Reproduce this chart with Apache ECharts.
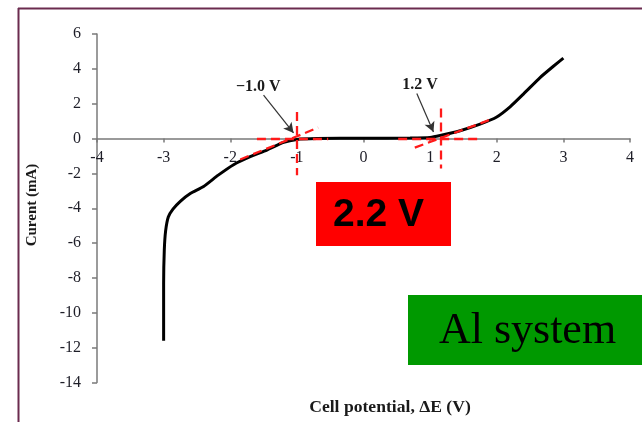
<!DOCTYPE html>
<html>
<head>
<meta charset="utf-8">
<script src="https://cdn.jsdelivr.net/npm/echarts@6/dist/echarts.min.js"></script>
<style>
  html, body { margin: 0; padding: 0; background: #fff; }
  #chart { width: 642px; height: 422px; }
</style>
</head>
<body>
<div id="chart"></div>
<script>
// Polarisation curve of the Al cell: cell potential (V) vs current (mA)
const potential = [-3.00, -3.00, -2.99, -2.97, -2.93, -2.86, -2.75, -2.60, -2.40, -2.18, -1.95, -1.70, -1.45, -1.20, -1.00, -0.70, 0.00, 0.70, 1.00, 1.15, 1.45, 1.75, 2.00, 2.20, 2.40, 2.65, 2.85, 3.00];
const current   = [-11.6, -8.3, -6.4, -5.3, -4.5, -4.05, -3.6, -3.15, -2.75, -2.1, -1.5, -1.04, -0.66, -0.22, -0.05, 0.00, 0.02, 0.03, 0.06, 0.17, 0.45, 0.83, 1.24, 1.82, 2.55, 3.50, 4.15, 4.62];

const xTicks = [-4, -3, -2, -1, 0, 1, 2, 3, 4];
const yTicks = [-14, -12, -10, -8, -6, -4, -2, 0, 2, 4, 6];

// Onset construction lines (dashed red): [x1, y1, x2, y2]
const onsetLines = [
  [-1.00, 1.53, -1.00, -2.10],
  [-1.60, 0.00, -0.53, 0.00],
  [-1.85, -1.20, -0.68, 0.63],
  [1.16, 1.73, 1.16, -1.72],
  [0.52, 0.00, 1.77, 0.00],
  [0.77, -0.52, 1.95, 1.15]
];

// Callout arrows: [x1, y1, x2, y2]
const arrows = [
  [-1.50, 2.49, -1.05, 0.32],
  [0.80, 2.59, 1.05, 0.38]
];
const calloutText = ['\u22121.0 V', '1.2 V'];
const calloutPos = [[-1.58, 2.97], [0.85, 3.06]];

const chart = echarts.init(document.getElementById('chart'), null, { renderer: 'canvas' });

const serif = '"Liberation Serif", "Times New Roman", serif';
const gridTop = 34, gridBottom = 39.5, chartH = 422;
const yMin = yTicks[0], yMax = yTicks[yTicks.length - 1];
// place the x axis (line, ticks and labels) on the zero current line
const plotH = chartH - gridTop - gridBottom;
const zeroFromBottom = plotH * (0 - yMin) / (yMax - yMin);

chart.setOption({
  animation: false,
  backgroundColor: '#ffffff',
  grid: { left: 97, right: 12, top: gridTop, bottom: gridBottom, containLabel: false },
  xAxis: {
    type: 'value', min: xTicks[0], max: xTicks[xTicks.length - 1], interval: 1,
    position: 'bottom',
    offset: -zeroFromBottom,
    axisLine: { onZero: false, lineStyle: { color: '#7a7a7a', width: 1.5 } },
    axisTick: { show: true, inside: false, length: 4, lineStyle: { color: '#7a7a7a', width: 1.5 } },
    axisLabel: { fontFamily: serif, fontSize: 16, color: '#1e1e28', margin: 11 },
    splitLine: { show: false }
  },
  yAxis: {
    type: 'value', min: yMin, max: yMax, interval: 2,
    axisLine: { show: true, onZero: false, lineStyle: { color: '#7a7a7a', width: 1.5 } },
    axisTick: { show: true, inside: false, length: 5, lineStyle: { color: '#7a7a7a', width: 1.5 } },
    axisLabel: { fontFamily: serif, fontSize: 16, color: '#1e1e28', margin: 16 },
    splitLine: { show: false }
  },
  series: [
    {
      name: 'I-V',
      type: 'line',
      data: potential.map((v, i) => [v, current[i]]),
      showSymbol: false,
      smooth: 0.2,
      lineStyle: { color: '#000', width: 3 },
      z: 2
    },
    {
      name: 'onset',
      type: 'line',
      data: [],
      z: 4,
      markLine: {
        silent: true,
        symbol: ['none', 'none'],
        label: { show: false },
        lineStyle: { color: '#ff1a1a', width: 2.3, type: [9, 5] },
        data: onsetLines.map(l => [{ coord: [l[0], l[1]] }, { coord: [l[2], l[3]] }])
      }
    },
    {
      name: 'callouts',
      type: 'line',
      data: [],
      z: 5,
      markLine: {
        silent: true,
        symbol: ['none', 'arrow'],
        symbolSize: [8, 10],
        label: { show: false },
        lineStyle: { color: '#333', width: 1.2, type: 'solid' },
        data: arrows.map(a => [{ coord: [a[0], a[1]] }, { coord: [a[2], a[3]] }])
      },
      markPoint: {
        silent: true,
        symbol: 'circle',
        symbolSize: 0,
        label: {
          show: true, position: 'inside',
          fontFamily: serif, fontWeight: 'bold', fontSize: 16, color: '#1a1a1a',
          formatter: p => p.name
        },
        data: calloutPos.map((c, i) => ({ coord: c, name: calloutText[i] }))
      }
    }
  ],
  graphic: [
    // slide frame
    { type: 'line', shape: { x1: 18, y1: 8.5, x2: 642, y2: 8.5 }, style: { stroke: '#6b2b4f', lineWidth: 2 } },
    { type: 'line', shape: { x1: 18.5, y1: 8, x2: 18.5, y2: 422 }, style: { stroke: '#6b2b4f', lineWidth: 2 } },
    // axis titles
    {
      type: 'text', x: 32, y: 205, rotation: Math.PI / 2,
      style: { text: 'Curent (mA)', font: 'bold 15px ' + serif, fill: '#1a1a1a', textAlign: 'center', textVerticalAlign: 'middle' }
    },
    {
      type: 'text', x: 390, y: 408, scaleX: 1.1,
      style: { text: 'Cell potential, \u0394E (V)', font: 'bold 16px ' + serif, fill: '#1a1a1a', textAlign: 'center', textVerticalAlign: 'middle' }
    },
    // highlighted boxes
    { type: 'rect', shape: { x: 316, y: 182, width: 135, height: 64 }, style: { fill: '#ff0000' }, z: 10 },
    {
      type: 'text', x: 333, y: 215, z: 11,
      style: { text: '2.2 V', font: 'bold 39px "Liberation Sans", Arial, sans-serif', fill: '#000', textAlign: 'left', textVerticalAlign: 'middle' }
    },
    { type: 'rect', shape: { x: 408, y: 295, width: 234, height: 70 }, style: { fill: '#009900' }, z: 10 },
    {
      type: 'text', x: 527.5, y: 331, z: 11,
      style: { text: 'Al system', font: '44px ' + serif, fill: '#000', textAlign: 'center', textVerticalAlign: 'middle' }
    }
  ]
});
</script>
</body>
</html>
